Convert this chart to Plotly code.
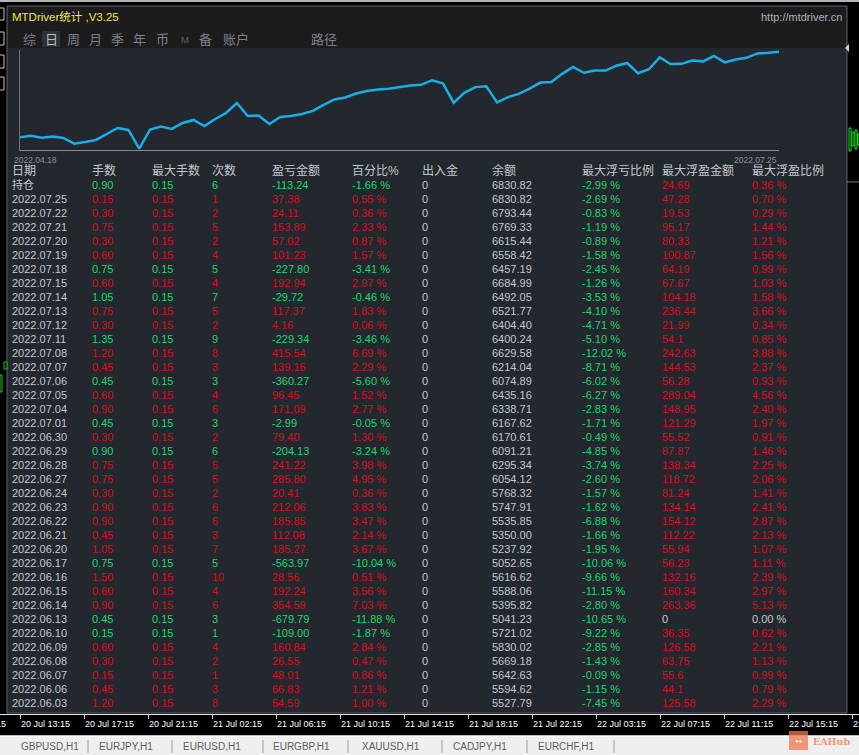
import pandas as pd
import plotly.graph_objects as go

W, H = 859, 755
FONT = 'Liberation Sans, Noto Sans CJK SC, sans-serif'

# ---- table data (持仓 row first, then days newest -> oldest) ----
days = ['持仓', '2022.07.25', '2022.07.22', '2022.07.21', '2022.07.20', '2022.07.19',
        '2022.07.18', '2022.07.15', '2022.07.14', '2022.07.13', '2022.07.12', '2022.07.11',
        '2022.07.08', '2022.07.07', '2022.07.06', '2022.07.05', '2022.07.04', '2022.07.01',
        '2022.06.30', '2022.06.29', '2022.06.28', '2022.06.27', '2022.06.24', '2022.06.23',
        '2022.06.22', '2022.06.21', '2022.06.20', '2022.06.17', '2022.06.16', '2022.06.15',
        '2022.06.14', '2022.06.13', '2022.06.10', '2022.06.09', '2022.06.08', '2022.06.07',
        '2022.06.06', '2022.06.03']
lots = [0.90, 0.15, 0.30, 0.75, 0.30, 0.60, 0.75, 0.60, 1.05, 0.75, 0.30, 1.35, 1.20,
        0.45, 0.45, 0.60, 0.90, 0.45, 0.30, 0.90, 0.75, 0.75, 0.30, 0.90, 0.90, 0.45,
        1.05, 0.75, 1.50, 0.60, 0.90, 0.45, 0.15, 0.60, 0.30, 0.15, 0.45, 1.20]
max_lots = [0.15] * 38
trades = [6, 1, 2, 5, 2, 4, 5, 4, 7, 5, 2, 9, 8, 3, 3, 4, 6, 3, 2, 6, 5, 5, 2, 6, 6, 3,
          7, 5, 10, 4, 6, 3, 1, 4, 2, 1, 3, 8]
pnl = [-113.24, 37.38, 24.11, 153.89, 57.02, 101.23, -227.80, 192.94, -29.72, 117.37,
       4.16, -229.34, 415.54, 139.15, -360.27, 96.45, 171.09, -2.99, 79.40, -204.13,
       241.22, 285.80, 20.41, 212.06, 185.85, 112.08, 185.27, -563.97, 28.56, 192.24,
       354.59, -679.79, -109.00, 160.84, 26.55, 48.01, 66.83, 54.59]
pnl_pct = [-1.66, 0.55, 0.36, 2.33, 0.87, 1.57, -3.41, 2.97, -0.46, 1.83, 0.06, -3.46,
           6.69, 2.29, -5.60, 1.52, 2.77, -0.05, 1.30, -3.24, 3.98, 4.95, 0.36, 3.83,
           3.47, 2.14, 3.67, -10.04, 0.51, 3.56, 7.03, -11.88, -1.87, 2.84, 0.47, 0.86,
           1.21, 1.00]
cash_flow = [0] * 38
balance = [6830.82, 6830.82, 6793.44, 6769.33, 6615.44, 6558.42, 6457.19, 6684.99,
           6492.05, 6521.77, 6404.40, 6400.24, 6629.58, 6214.04, 6074.89, 6435.16,
           6338.71, 6167.62, 6170.61, 6091.21, 6295.34, 6054.12, 5768.32, 5747.91,
           5535.85, 5350.00, 5237.92, 5052.65, 5616.62, 5588.06, 5395.82, 5041.23,
           5721.02, 5830.02, 5669.18, 5642.63, 5594.62, 5527.79]
max_float_loss_pct = [-2.99, -2.69, -0.83, -1.19, -0.89, -1.58, -2.45, -1.26, -3.53,
                      -4.10, -4.71, -5.10, -12.02, -8.71, -6.02, -6.27, -2.83, -1.71,
                      -0.49, -4.85, -3.74, -2.60, -1.57, -1.62, -6.88, -1.66, -1.95,
                      -10.06, -9.66, -11.15, -2.80, -10.65, -9.22, -2.85, -1.43, -0.09,
                      -1.15, -7.45]
max_float_profit = [24.69, 47.28, 19.53, 95.17, 80.33, 100.87, 64.19, 67.67, 104.18,
                    236.44, 21.99, 54.1, 242.63, 144.53, 56.28, 289.04, 148.95, 121.29,
                    55.52, 87.87, 138.34, 118.72, 81.24, 134.14, 154.12, 112.22, 55.94,
                    56.23, 132.16, 160.34, 263.36, 0, 36.35, 126.58, 63.75, 55.6, 44.1,
                    125.58]
max_float_profit_pct = [0.36, 0.70, 0.29, 1.44, 1.21, 1.56, 0.99, 1.03, 1.58, 3.66, 0.34,
                        0.85, 3.88, 2.37, 0.93, 4.56, 2.40, 1.97, 0.91, 1.46, 2.25, 2.06,
                        1.41, 2.41, 2.87, 2.13, 1.07, 1.11, 2.39, 2.97, 5.13, 0.00, 0.62,
                        2.21, 1.13, 0.99, 0.79, 2.29]
headers = ['日期', '手数', '最大手数', '次数', '盈亏金额', '百分比%', '出入金', '余额',
           '最大浮亏比例', '最大浮盈金额', '最大浮盈比例']

# balance curve before 06.03
early_balance = [3828, 3884, 3814, 3856, 3803, 3603, 3663, 3733, 3943, 4154, 4084, 3428,
                 4101, 4200, 4119, 4329, 4435, 4224, 4470, 4680, 5031, 4575, 4593, 4294,
                 4540, 4575, 4645, 4751, 4961, 5154, 5224, 5365, 5452, 5505]

menu_tabs = ['综', '日', '周', '月', '季', '年', '币', 'M', '备', '账户', '路径']
time_labels = ['20 Jul 09:15', '20 Jul 13:15', '20 Jul 17:15', '20 Jul 21:15',
               '21 Jul 02:15', '21 Jul 06:15', '21 Jul 10:15', '21 Jul 14:15',
               '21 Jul 18:15', '21 Jul 22:15', '22 Jul 03:15', '22 Jul 07:15',
               '22 Jul 11:15', '22 Jul 15:15', '22 Jul 19:15']
symbol_tabs = ['GBPUSD,H1', 'EURJPY,H1', 'EURUSD,H1', 'EURGBP,H1', 'XAUUSD,H1',
               'CADJPY,H1', 'EURCHF,H1']

line_dates = pd.bdate_range('2022-04-18', '2022-07-25').strftime('%Y.%m.%d').tolist()
line_balance = early_balance + balance[:0:-1]

# colours
PANEL = '#23272e'
HEAD = '#1c1c1c'
GRAY = '#c3c7cd'
RED = '#d6121e'
GREEN = '#27d470'
LINE = '#1aaee6'


def px(x):
    return x / W


def py(y):
    return 1 - y / H


def rect(x0, y0, x1, y1, fill, line=None, lw=0, layer='below'):
    return dict(type='rect', xref='paper', yref='paper', x0=px(x0), x1=px(x1),
                y0=py(y1), y1=py(y0), fillcolor=fill, layer=layer,
                line=dict(color=line or fill, width=lw))


def seg(x0, y0, x1, y1, color, w=1):
    return dict(type='line', xref='paper', yref='paper', x0=px(x0), x1=px(x1),
                y0=py(y0), y1=py(y1), line=dict(color=color, width=w), layer='below')


def label(x, y, text, color, size, anchor='left'):
    return dict(xref='paper', yref='paper', x=px(x), y=py(y), text=text, showarrow=False,
                xanchor=anchor, yanchor='middle', borderpad=0,
                font=dict(family=FONT, size=size, color=color))


fig = go.Figure()

# balance curve
fig.add_trace(go.Scatter(x=line_dates, y=line_balance, mode='lines',
                         line=dict(color=LINE, width=2.5), hoverinfo='skip'))

# table, one text trace per column
n = len(days)
row_col = [GREEN if v < 0 else RED for v in pnl]
columns = [
    (days, [GRAY] * n),
    ([f'{v:.2f}' for v in lots], row_col),
    ([f'{v:.2f}' for v in max_lots], row_col),
    ([str(v) for v in trades], row_col),
    ([f'{v:.2f}' for v in pnl], row_col),
    ([f'{v:.2f} %' for v in pnl_pct], row_col),
    ([f'{v:g}' for v in cash_flow], [GRAY] * n),
    ([f'{v:.2f}' for v in balance], [GRAY] * n),
    ([f'{v:.2f} %' for v in max_float_loss_pct], [GREEN] * n),
    ([f'{v:g}' for v in max_float_profit], [RED if v > 0 else GRAY for v in max_float_profit]),
    ([f'{v:.2f} %' for v in max_float_profit_pct], [RED if v > 0 else GRAY for v in max_float_profit_pct]),
]
col_x = [12, 92, 152, 212, 272, 352, 422, 492, 582, 662, 752]
for cx, (texts, colors) in zip(col_x, columns):
    fig.add_trace(go.Scatter(x=[cx] * n, y=list(range(n)), mode='text', text=texts,
                             textposition='middle right', cliponaxis=False,
                             textfont=dict(family=FONT, size=11, color=colors),
                             xaxis='x2', yaxis='y2', hoverinfo='skip'))
fig.add_trace(go.Scatter(x=col_x, y=[-1] * len(headers), mode='text', text=headers,
                         textposition='middle right', cliponaxis=False,
                         textfont=dict(family=FONT, size=12, color=GRAY),
                         xaxis='x2', yaxis='y2', hoverinfo='skip'))

# ---- decorations ----
shapes = [
    rect(0, 0, W, 2, '#b4b4b4'),
    rect(7, 6, 847, 713, PANEL, '#5c6068', 1),
    rect(8, 7, 846, 48, HEAD),
    rect(42, 31, 60, 47, '#2d323a'),
    seg(0, 714.5, W, 714.5, '#e8e8e8'),
    rect(0, 736, W, H, '#efefef'),
    seg(0, 736, W, 736, '#ffffff', 1.5),
    seg(847, 182, W, 182, '#7a7a7a'),
]
for yb in [(8, 20), (32, 45), (55, 68), (77, 90)]:
    shapes.append(rect(-3, yb[0], 4, yb[1], '#000000', '#c8c8c8', 1))
for xb, yb in [((849, 851), (128, 151)), ((852, 854), (132, 146)),
               ((855, 857), (130, 149)), ((857.5, 859), (134, 145))]:
    shapes.append(rect(xb[0], yb[0], xb[1], yb[1], '#000000', '#22e022', 1))
shapes.append(rect(4, 362, 7, 369, '#000000', '#22c022', 1))
shapes.append(rect(0, 375, 2, 392, '#000000', '#22c022', 1))
shapes.append(dict(type='path', xref='paper', yref='paper', layer='above',
                   path=f'M {px(849)} {py(44)} L {px(845)} {py(48)} L {px(849)} {py(52)} Z',
                   fillcolor='#cfd3d8', line=dict(width=0)))
for k in range(len(time_labels)):
    tx = 20.5 + 64 * (k - 1)
    shapes.append(seg(tx, 714.5, tx, 719, '#e8e8e8'))
for sx in [88, 172, 263, 348, 442, 527, 614]:
    shapes.append(seg(sx, 740, sx, 753, '#9a9a9a'))
# watermark
shapes.append(rect(789, 731, 808, 750, 'rgba(240,120,80,0.75)', layer='above'))

annotations = [
    label(11, 17, 'MTDriver统计 ,V3.25', '#f2e84a', 11.5),
    label(843, 17, 'http://mtdriver.cn', '#a9b3bf', 11, 'right'),
    label(798.5, 741, '●●', 'rgba(255,255,255,0.8)', 6, 'center'),
    dict(xref='paper', yref='paper', x=px(812), y=py(741), text='<b>EAHub</b>',
         showarrow=False, xanchor='left', yanchor='middle', borderpad=0,
         font=dict(family='DejaVu Serif', size=9.5, color='rgba(242,120,80,0.8)')),
    dict(xref='x', yref='paper', x=line_dates[0], y=py(154), text=line_dates[0],
         showarrow=False, xanchor='left', xshift=-7, borderpad=0,
         font=dict(family=FONT, size=8.5, color='#8e949c')),
    dict(xref='x', yref='paper', x=line_dates[-1], y=py(154), text=line_dates[-1],
         showarrow=False, xanchor='right', xshift=-1, borderpad=0,
         font=dict(family=FONT, size=8.5, color='#8e949c')),
]
menu_x = [22, 44, 66, 88, 110, 132, 155, 180, 198, 222, 310]
for i, (mx, t) in enumerate(zip(menu_x, menu_tabs)):
    if t == 'M':
        annotations.append(label(mx, 39.5, t, '#5e636b', 9.5))
    else:
        annotations.append(label(mx, 39.5, t, '#b8bdc4' if i == 1 else '#7c828b', 13))
for k, t in enumerate(time_labels):
    annotations.append(label(20 + 64 * (k - 1), 724, t, '#ffffff', 9))
tab_x = [20, 98, 182, 272, 361, 452, 537]
for tx, t in zip(tab_x, symbol_tabs):
    annotations.append(label(tx, 746, t, '#5d5d5d', 10))

row0, row_h = 186, 14
lo, hi = min(line_balance), max(line_balance)
fig.update_layout(
    width=W, height=H,
    margin=dict(l=0, r=0, t=0, b=0),
    paper_bgcolor='#000000',
    plot_bgcolor='rgba(0,0,0,0)',
    showlegend=False,
    xaxis=dict(domain=[px(20), px(779)], type='category', range=[0, len(line_dates) - 1],
               showline=True, linecolor='#868b93', linewidth=1, showgrid=False,
               zeroline=False, showticklabels=False, ticks=''),
    yaxis=dict(domain=[py(149.5), py(50)], range=[lo - 30, hi + 60],
               showline=True, linecolor='#6e737b', linewidth=1, showgrid=False,
               zeroline=False, showticklabels=False, ticks=''),
    xaxis2=dict(domain=[0, 1], range=[0, W], visible=False, anchor='y2'),
    yaxis2=dict(domain=[0, 1], range=[(H - row0) / row_h, -row0 / row_h],
                visible=False, anchor='x2'),
    shapes=shapes,
    annotations=annotations,
)

# the page's default body margin would shift the figure by 8px
fig.write_html('out.html', config={'displayModeBar': False},
               post_script="document.body.style.margin='0';")
